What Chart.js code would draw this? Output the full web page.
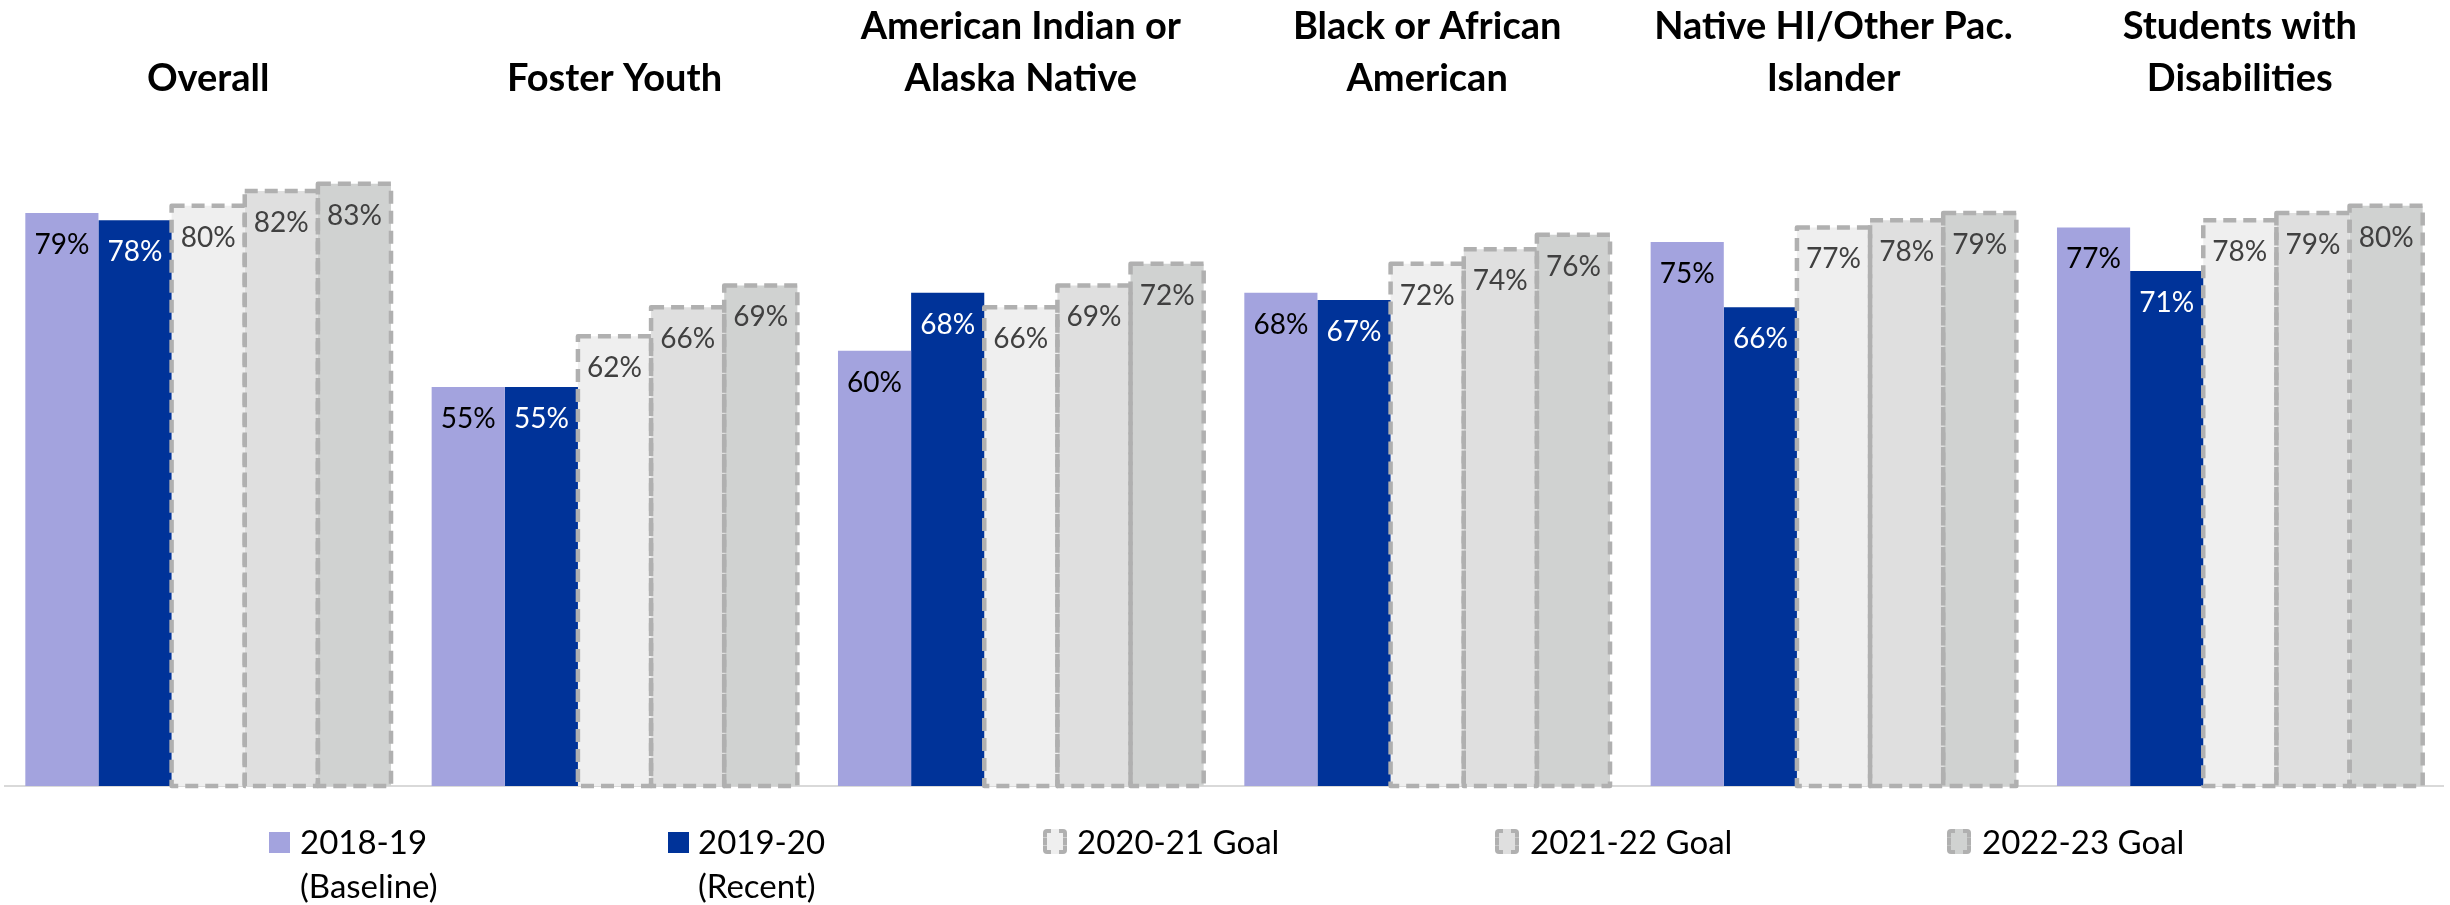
<!DOCTYPE html>
<html>
<head>
<meta charset="utf-8">
<script src="https://cdn.jsdelivr.net/npm/chart.js@4.4.1/dist/chart.umd.min.js"></script>
<style>
  html, body { margin: 0; padding: 0; background: #ffffff; }
  #wrap { position: relative; width: 2450px; height: 905px; overflow: hidden; }
  #c { position: absolute; left: 0; top: 0; }
  .lg-mark { position: absolute; box-sizing: border-box; }
  .lg-text { position: absolute; font-family: Lato, "Open Sans", sans-serif; font-size: 33px; line-height: 44px; color: #000; white-space: nowrap; }
</style>
</head>
<body>
<div id="wrap">
  <canvas id="c" width="2450" height="905"></canvas>
</div>
<script>
// ---- data ----
const categories = [
  ['Overall'],
  ['Foster Youth'],
  ['American Indian or', 'Alaska Native'],
  ['Black or African', 'American'],
  ['Native HI/Other Pac.', 'Islander'],
  ['Students with', 'Disabilities']
];
const seriesNames = ['2018-19 (Baseline)', '2019-20 (Recent)', '2020-21 Goal', '2021-22 Goal', '2022-23 Goal'];
const legendLines = [['2018-19', '(Baseline)'], ['2019-20', '(Recent)'], ['2020-21 Goal'], ['2021-22 Goal'], ['2022-23 Goal']];
const baseline2018 = [79, 55, 60, 68, 75, 77];
const recent2019 = [78, 55, 68, 67, 66, 71];
const goal2020 = [80, 62, 66, 72, 77, 78];
const goal2021 = [82, 66, 69, 74, 78, 79];
const goal2022 = [83, 69, 72, 76, 79, 80];

// ---- styles ----
const fills = ['#A3A3DE', '#003399', '#EFEFEF', '#DFDFDF', '#D0D2D1'];
const labelColors = ['#000000', '#FFFFFF', '#404040', '#404040', '#404040'];
const isGoal = [false, false, true, true, true];
const dashColor = '#B0B0B0';
const FONT = 'Lato, "Open Sans", sans-serif';

const seriesData = [baseline2018, recent2019, goal2020, goal2021, goal2022];

const datasets = seriesData.map((d, i) => ({
  label: seriesNames[i],
  data: d,
  backgroundColor: fills[i],
  borderWidth: 0,
  categoryPercentage: 0.9,
  barPercentage: 1.0
}));

const barExtras = {
  id: 'barExtras',
  afterDatasetsDraw(chart) {
    const ctx = chart.ctx;
    // dashed outlines for goal bars
    ctx.save();
    ctx.setLineDash([13, 7]);
    ctx.lineWidth = 4.5;
    ctx.lineJoin = 'round';
    ctx.strokeStyle = dashColor;
    chart.data.datasets.forEach((ds, i) => {
      if (!isGoal[i]) return;
      const meta = chart.getDatasetMeta(i);
      meta.data.forEach(bar => {
        const p = bar.getProps(['x', 'y', 'base', 'width'], true);
        ctx.beginPath();
        ctx.rect(p.x - p.width / 2, p.y, p.width, p.base - p.y);
        ctx.stroke();
      });
    });
    ctx.restore();
    // value labels
    ctx.save();
    ctx.font = '28px ' + FONT;
    ctx.textAlign = 'center';
    ctx.textBaseline = 'middle';
    chart.data.datasets.forEach((ds, i) => {
      const meta = chart.getDatasetMeta(i);
      ctx.fillStyle = labelColors[i];
      meta.data.forEach((bar, j) => {
        const p = bar.getProps(['x', 'y'], true);
        ctx.fillText(ds.data[j] + '%', p.x, p.y + 32);
      });
    });
    ctx.restore();
  }
};

const chart = new Chart(document.getElementById('c'), {
  type: 'bar',
  data: { labels: categories, datasets: datasets },
  options: {
    responsive: false,
    animation: false,
    devicePixelRatio: 1,
    layout: { padding: { left: 5, right: 7, top: -11, bottom: 119 } },
    plugins: { legend: { display: false }, tooltip: { enabled: false } },
    scales: {
      x: {
        position: 'top',
        grid: { display: false, drawTicks: false },
        border: { display: false },
        ticks: {
          padding: 12,
          color: '#000000',
          maxRotation: 0,
          autoSkip: false,
          font: { family: FONT, size: 38, weight: 'bold', lineHeight: 1.37 }
        }
      },
      x2: {
        type: 'category',
        labels: categories.map(c => c.join(' ')),
        position: 'bottom',
        grid: { display: false, drawTicks: false },
        border: { display: true, color: '#D9D9D9', width: 2 },
        ticks: { display: false }
      },
      y: {
        display: false,
        min: 0,
        max: 92.2
      }
    }
  },
  plugins: [barExtras]
});

// ---- HTML legend built from datasets ----
const wrap = document.getElementById('wrap');
const legendMarkX = [269, 668, 1043, 1495, 1947];
const legendTextX = [300, 698, 1077, 1530, 1982];
datasets.forEach((ds, i) => {
  const m = document.createElement('div');
  m.className = 'lg-mark';
  m.style.left = legendMarkX[i] + 'px';
  m.style.background = ds.backgroundColor;
  if (isGoal[i]) {
    m.style.top = '829px';
    m.style.width = '24px';
    m.style.height = '25px';
    m.style.border = '4px dashed ' + dashColor;
    m.style.borderRadius = '4px';
  } else {
    m.style.top = '832px';
    m.style.width = '21px';
    m.style.height = '21px';
  }
  wrap.appendChild(m);
  const t = document.createElement('div');
  t.className = 'lg-text';
  t.style.left = legendTextX[i] + 'px';
  t.style.top = '819px';
  t.innerHTML = legendLines[i].join('<br>');
  wrap.appendChild(t);
});
</script>
</body>
</html>
